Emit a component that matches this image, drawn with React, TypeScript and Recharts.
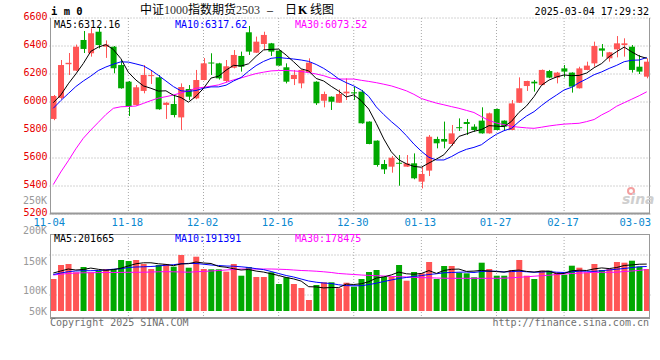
import React from 'react';
import { ComposedChart, Bar, Line, XAxis, YAxis, CartesianGrid, Cell } from 'recharts';

const RED = '#ff5555';
const GREEN = '#00a800';
const MONO = '"DejaVu Sans Mono", monospace';

const dates = [
  '11-04','11-05','11-06','11-07','11-08','11-11','11-12','11-13','11-14','11-15',
  '11-18','11-19','11-20','11-21','11-22','11-25','11-26','11-27','11-28','11-29',
  '12-02','12-03','12-04','12-05','12-06','12-09','12-10','12-11','12-12','12-13',
  '12-16','12-17','12-18','12-19','12-20','12-23','12-24','12-25','12-26','12-27',
  '12-30','12-31','01-02','01-03','01-06','01-07','01-08','01-09','01-10','01-13',
  '01-14','01-15','01-16','01-17','01-20','01-21','01-22','01-23','01-24','01-27',
  '02-05','02-06','02-07','02-10','02-11','02-12','02-13','02-14','02-17','02-18',
  '02-19','02-20','02-21','02-24','02-25','02-26','02-27','02-28','03-03','03-04',
];

const opens = [
  5879,6029,6270,6224,6443,6348,6502,6395,6395,6264,
  6145,5979,6079,6185,6176,5979,5986,5890,6093,6026,
  6157,6282,6276,6150,6245,6329,6498,6352,6414,6419,
  6367,6248,6164,6133,6212,6145,6009,6038,5995,6062,
  6069,6074,5860,5724,5557,5538,5566,5538,5562,5431,
  5510,5736,5736,5700,5820,5857,5824,5867,5776,5950,
  5867,5800,5995,6114,6145,6121,6221,6174,6240,6210,
  6098,6229,6276,6383,6312,6376,6407,6395,6252,6181,
];
const highs = [
  6050,6300,6350,6410,6507,6526,6533,6440,6400,6300,
  6150,6121,6264,6229,6193,5998,6050,6133,6121,6229,
  6314,6348,6280,6300,6371,6360,6543,6467,6502,6422,
  6370,6276,6229,6232,6312,6148,6074,6040,6090,6169,
  6110,6086,5862,5726,5586,5614,5621,5621,5633,5538,
  5764,5752,5860,5836,5883,5879,5841,5962,5924,5953,
  5869,6014,6176,6152,6157,6232,6229,6215,6264,6212,
  6252,6288,6431,6414,6358,6471,6455,6407,6336,6312,
];
const lows = [
  5870,6020,6193,6220,6350,6324,6383,6315,6205,6095,
  5900,5975,6062,6129,5945,5879,5890,5800,6014,6020,
  6155,6193,6160,6140,6240,6217,6336,6350,6371,6329,
  6258,6133,6121,6098,6210,5979,5962,5943,5993,6014,
  6014,5845,5698,5538,5486,5495,5402,5536,5448,5383,
  5471,5669,5669,5686,5793,5764,5788,5774,5774,5797,
  5800,5798,5993,6079,6074,6119,6170,6133,6176,6067,
  6096,6227,6252,6324,6288,6319,6324,6210,6200,6169,
];
const closes = [
  6043,6264,6280,6395,6379,6491,6407,6410,6241,6098,
  5967,6105,6193,6192,5948,5995,5907,6107,6038,6157,
  6276,6278,6169,6255,6336,6252,6360,6431,6479,6360,
  6260,6145,6193,6229,6281,5991,6057,6002,6057,6074,
  6065,5848,5700,5550,5519,5602,5564,5562,5455,5486,
  5752,5705,5717,5776,5818,5843,5800,5776,5919,5800,
  5824,5990,6098,6150,6133,6229,6174,6210,6217,6110,
  6240,6260,6400,6367,6355,6419,6419,6229,6217,6288,
];
const ma5 = [
  5995,6050,6130,6200,6275,6362,6392,6410,6375,6310,
  6212,6157,6115,6098,6078,6080,6048,6032,5999,6041,
  6097,6171,6184,6227,6262,6257,6273,6326,6372,6376,
  6378,6335,6287,6237,6222,6168,6150,6112,6078,6036,
  6051,6009,5949,5847,5736,5644,5587,5559,5540,5534,
  5564,5592,5623,5687,5754,5772,5791,5803,5831,5828,
  5824,5862,5926,5972,6039,6120,6157,6179,6193,6188,
  6190,6207,6245,6275,6324,6360,6392,6358,6328,6312,
];
const ma10 = [
  5955,6010,6060,6110,6150,6185,6225,6250,6270,6287,
  6285,6272,6258,6228,6190,6150,6110,6080,6076,6082,
  6098,6108,6108,6120,6150,6175,6220,6260,6290,6312,
  6318,6312,6307,6300,6290,6268,6240,6205,6165,6138,
  6115,6085,6040,5965,5910,5860,5815,5760,5700,5648,
  5605,5586,5586,5610,5640,5662,5676,5695,5735,5770,
  5795,5812,5860,5900,5931,5975,6015,6050,6086,6105,
  6138,6165,6195,6215,6240,6262,6288,6298,6300,6318,
];
const ma30 = [
  5410,5500,5580,5665,5741,5800,5855,5910,5955,5966,
  5968,5971,5990,6010,6028,6038,6050,6065,6080,6098,
  6105,6113,6122,6140,6158,6172,6188,6203,6213,6222,
  6225,6225,6222,6218,6210,6200,6188,6170,6164,6164,
  6164,6155,6147,6138,6127,6115,6098,6080,6055,6025,
  6008,5992,5980,5967,5955,5940,5925,5895,5868,5850,
  5838,5826,5820,5815,5812,5820,5829,5836,5842,5845,
  5848,5860,5875,5908,5935,5970,5995,6020,6045,6073,
];
// volume in thousands
const volumes = [
  137.6,197.8,202.1,166.4,189.2,166.4,173.3,180.6,180.6,219.3,
  215.0,219.3,202.1,180.6,197.8,202.1,190.5,240.8,186.2,233.5,
  180.6,179.3,179.3,169.0,202.1,151.8,189.2,146.2,146.2,166.4,
  116.1,144.9,116.1,98.9,47.3,111.8,123.4,123.4,97.6,121.7,
  104.5,137.6,167.7,176.3,147.5,147.5,197.8,130.3,167.7,162.1,
  210.7,137.6,193.5,193.5,164.7,162.1,144.9,207.7,180.6,151.8,
  151.8,176.3,219.3,151.8,137.6,173.3,173.3,166.4,156.1,194.8,
  186.2,166.4,202.1,176.3,180.6,210.7,207.7,216.3,190.5,180.6,
];
const volMa5 = [
  163.4,172,180.6,176.3,178.5,184.5,179.3,175,178,184,
  193.9,203,207.3,207.3,203,200.4,194.8,202.5,203.4,210.7,
  206.4,204.3,191.8,188.3,181.9,176.3,178.5,171.6,167.3,160,
  152.7,144.1,138,128.6,104.5,103.6,99.3,101.1,100.6,115.7,
  114,117,126,141.5,146.6,155.2,167.3,160,158.2,161.3,
  173.7,161.7,174.2,179.3,180.2,170.3,171.6,174.6,172,169.4,
  167.3,173.7,175.9,170.3,167.3,171.6,171.1,160.4,161.3,172.9,
  175.4,174.2,181,185.3,182.3,187.1,195.7,198.2,201.2,201.7,
];
const volMa10 = [
  157,163.4,169,172,173.3,173.3,174.2,176.3,179.7,181.5,
  187.1,189.2,190.1,191.4,193.5,196.9,199.1,203,204.7,204.3,
  201.2,197.8,195.7,193.5,192.6,190.1,187.1,181.9,178,169.9,
  161.3,152.7,146.2,137.6,129,123.8,120.4,118.3,112.7,109.2,
  108.4,108.8,113.5,119.5,126.9,133.3,139.8,144.1,148.8,152.2,
  157,160,164.3,165.6,166.8,167.7,165.6,169.9,171.1,171.1,
  167.7,169.4,171.1,168.6,166.8,167.3,169.4,166.8,165.6,168.6,
  171.1,171.1,170.3,173.3,176.3,179.7,182.8,186.6,190.1,191.4,
];
const volMa30 = [
  154.8,158.2,161.3,163.4,164.3,164.7,165.1,165.6,165.6,166,
  166.4,166.4,166.8,167.7,168.6,169,168.6,167.7,166.8,168.6,
  170.3,172,174.2,176.3,178.5,180.6,180.6,180.6,180.6,180.6,
  179.7,178.5,176.3,174.2,172.9,171.1,168.6,165.6,161.3,159.1,
  157,154.8,153.1,151.8,150.5,148.8,147.5,146.2,144.9,143.6,
  142.8,141.9,141,140.6,140.6,140.6,140.6,140.6,140.6,140.6,
  141,142.8,144.9,147.1,149.6,151.8,153.9,157,159.1,161.3,
  162.5,164.7,166,166.4,166.4,166.8,169.9,172,174.6,178.5,
];

const tickDates = ['11-04','11-18','12-02','12-16','12-30','01-13','01-27','02-17','03-03'];
const gridDates = ['11-18','12-02','12-16','12-30','01-13','01-27','02-17'];
const priceTicks = [5200,5400,5600,5800,6000,6200,6400,6600];
const volDomain = [-30.1, 331.1];
const volGrid = [68.8, 154.8, 240.8];
const volLabels = ['250K','200K','150K','100K','50K'];

const rows = dates.map((date, i) => ({
  date,
  open: opens[i], high: highs[i], low: lows[i], close: closes[i],
  ma5: ma5[i], ma10: ma10[i], ma30: ma30[i],
  vol: volumes[i], vma5: volMa5[i], vma10: volMa10[i], vma30: volMa30[i],
}));

const Candle = (props: any) => {
  const { x, y, width, height, payload } = props;
  if (!payload) return null;
  const { open, close, high, low } = payload;
  const color = close >= open ? RED : GREEN;
  const h = Math.abs(height);
  const top = Math.min(y, y + height);
  const k = h / (high - low || 1);
  const bodyTop = top + (high - Math.max(open, close)) * k;
  const bodyH = Math.max(1, Math.abs(close - open) * k);
  const cx = Math.round(x + width / 2) + 0.5;
  return (
    <g>
      <line x1={cx} x2={cx} y1={top} y2={top + h} stroke={color} strokeWidth={1} />
      <rect x={x} y={bodyTop} width={width} height={bodyH} fill={color} />
    </g>
  );
};

const XTick = (props: any) => {
  const { x, y, payload, index } = props;
  const shift = index === 0 || index === tickDates.length - 1 ? -4 : -1;
  return (
    <text x={x + shift} y={y} dy={10} textAnchor="middle" fill="#0a88d0" fontSize={10.5} fontFamily={MONO}>
      {payload.value}
    </text>
  );
};

const YTick = (props: any) => {
  const { x, y, payload } = props;
  return (
    <text x={x} y={y} dy={2} textAnchor="end" fill="#e60000" fontSize={10} fontFamily={MONO}>
      {payload.value}
    </text>
  );
};

const CJK = '"Noto Sans CJK SC"';
const SERIF = '"Liberation Serif"';

export default function App() {
  return (
    <div style={{ position: 'fixed', left: 0, top: 0, width: 660, height: 360, background: '#fff', overflow: 'hidden' }}>
      <div style={{ position: 'absolute', left: 0, top: 0 }}>
        <ComposedChart width={660} height={240} data={rows} margin={{ top: 18, right: 9.5, bottom: 0, left: 0 }}>
          <CartesianGrid stroke="#a8a8a8" strokeDasharray="1 2" verticalValues={gridDates} horizontalValues={priceTicks} />
          <XAxis dataKey="date" ticks={tickDates} interval={0} height={26} tickLine={false} axisLine={false} tickSize={0} tick={(p: any) => <XTick {...p} />} />
          <YAxis domain={[5200, 6600]} ticks={priceTicks} interval={0} width={49.5} allowDataOverflow tickLine={false} axisLine={false} tickSize={0} tickMargin={2} tick={(p: any) => <YTick {...p} />} />
          <Bar dataKey={(d: any) => [d.low, d.high]} barSize={6} shape={(p: any) => <Candle {...p} />} isAnimationActive={false} />
          <Line dataKey="ma30" stroke="#ff00ff" dot={false} strokeWidth={1} isAnimationActive={false} />
          <Line dataKey="ma10" stroke="#0000ff" dot={false} strokeWidth={1} isAnimationActive={false} />
          <Line dataKey="ma5" stroke="#000000" dot={false} strokeWidth={1} isAnimationActive={false} />
        </ComposedChart>
      </div>
      <div style={{ position: 'absolute', left: 0, top: 230 }}>
        <ComposedChart width={660} height={100} data={rows} margin={{ top: 4, right: 9.5, bottom: 12, left: 49.5 }}>
          <CartesianGrid stroke="#a8a8a8" strokeDasharray="1 2" verticalValues={gridDates} horizontalValues={volGrid} />
          <XAxis dataKey="date" hide />
          <YAxis domain={volDomain} hide allowDataOverflow />
          <Bar dataKey="vol" barSize={6} isAnimationActive={false}>
            {rows.map((r, i) => (
              <Cell key={i} fill={r.close >= r.open ? RED : GREEN} />
            ))}
          </Bar>
          <Line dataKey="vma30" stroke="#ff00ff" dot={false} strokeWidth={1} isAnimationActive={false} />
          <Line dataKey="vma10" stroke="#0000ff" dot={false} strokeWidth={1} isAnimationActive={false} />
          <Line dataKey="vma5" stroke="#000000" dot={false} strokeWidth={1} isAnimationActive={false} />
        </ComposedChart>
      </div>
      <svg width={660} height={360} style={{ position: 'absolute', left: 0, top: 0, pointerEvents: 'none' }}>
        {/* price frame */}
        <line x1={50.5} x2={50.5} y1={18} y2={214} stroke="#999" />
        <line x1={649.5} x2={649.5} y1={18} y2={214} stroke="#999" />
        <line x1={50} x2={650} y1={213.5} y2={213.5} stroke="#999" strokeWidth={2} />
        {/* volume frame */}
        <line x1={50} x2={650} y1={234.5} y2={234.5} stroke="#999" />
        <line x1={50.5} x2={50.5} y1={234} y2={319} stroke="#999" />
        <line x1={649.5} x2={649.5} y1={234} y2={319} stroke="#999" />
        <line x1={50} x2={650} y1={318} y2={318} stroke="#999" strokeWidth={2} />

        <text x={51} y={15} fontSize={10.5} fontWeight="bold" fontFamily={MONO} fill="#000">i m 0</text>
        <text y={14} fontSize={12} fontFamily={CJK} fill="#000">
          <tspan x={140}>中证</tspan>
          <tspan x={164} fontFamily={SERIF} fill="#333">1000</tspan>
          <tspan x={188}>指数期货</tspan>
          <tspan x={236} fontFamily={SERIF} fill="#333">2503</tspan>
          <tspan x={267} fontFamily={SERIF}>–</tspan>
          <tspan x={285}>日</tspan>
          <tspan x={298} fontFamily={SERIF} fontWeight="bold">K</tspan>
          <tspan x={310}>线图</tspan>
        </text>
        <text x={649} y={15} textAnchor="end" fontSize={10} fontFamily={MONO} fill="#000">2025-03-04 17:29:32</text>

        <text x={54} y={28} fontSize={10} fontFamily={MONO} fill="#000">MA5:6312.16</text>
        <text x={175} y={28} fontSize={10} fontFamily={MONO} fill="#0000ff">MA10:6317.62</text>
        <text x={295} y={28} fontSize={10} fontFamily={MONO} fill="#ff00ff">MA30:6073.52</text>

        <text x={54} y={242} fontSize={10} fontFamily={MONO} fill="#000">MA5:201665</text>
        <text x={175} y={242} fontSize={10} fontFamily={MONO} fill="#0000ff">MA10:191391</text>
        <text x={295} y={242} fontSize={10} fontFamily={MONO} fill="#ff00ff">MA30:178475</text>

        <text x={47} y={203.6} textAnchor="end" fontSize={10} fontFamily={MONO} fill="#999">{volLabels[0]}</text>
        <text x={47} y={233.6} textAnchor="end" fontSize={10} fontFamily={MONO} fill="#999">{volLabels[1]}</text>
        <text x={47} y={264.6} textAnchor="end" fontSize={10} fontFamily={MONO} fill="#999">{volLabels[2]}</text>
        <text x={47} y={294.1} textAnchor="end" fontSize={10} fontFamily={MONO} fill="#999">{volLabels[3]}</text>
        <text x={47} y={314.6} textAnchor="end" fontSize={10} fontFamily={MONO} fill="#999">{volLabels[4]}</text>

        <text x={50} y={326} fontSize={10} fontFamily={MONO} fill="#707070">Copyright 2025 SINA.COM</text>
        <text x={649} y={326} textAnchor="end" fontSize={10} fontFamily={MONO} fill="#707070">http://finance.sina.com.cn</text>

        <circle cx={631} cy={191} r={3} fill="none" stroke="#f4a0a0" strokeWidth={2} />
        <text x={622} y={204} fontSize={14} fontStyle="italic" fontWeight="bold" fontFamily='"DejaVu Sans"' fill="#cfcfcf">sina</text>
      </svg>
    </div>
  );
}
